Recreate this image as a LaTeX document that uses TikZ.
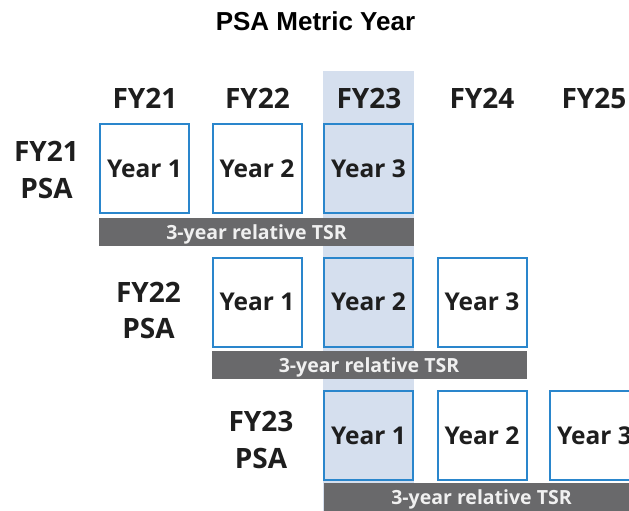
\documentclass[tikz,border=0pt]{standalone}
\usepackage{fontspec}
\setmainfont{Open Sans}
\newfontfamily\titlefont{Liberation Sans}
\definecolor{boxblue}{HTML}{2A86CC}
\definecolor{hl}{HTML}{D5DFEE}
\definecolor{barcol}{HTML}{69696B}
\definecolor{ink}{HTML}{1E1E1E}
\tikzset{
  yearbox/.style={draw=boxblue, line width=2pt, fill=white, minimum width=89pt, minimum height=89pt,
    inner sep=0pt, text=ink, font=\bfseries\fontsize{24.5}{24.5}\selectfont, text height=17.5pt, text depth=0pt},
  hlbox/.style={yearbox, fill=hl},
  tsrbar/.style={fill=barcol, minimum width=315pt, minimum height=28pt, inner sep=0pt,
    text=white!94!black, font=\bfseries\fontsize{19.5}{19.5}\selectfont, text height=14pt, text depth=0pt},
  hdr/.style={anchor=base, text=ink, font=\bfseries\fontsize{28}{28}\selectfont, inner sep=0pt},
}
\begin{document}
\begin{tikzpicture}[x=1pt,y=-1pt]
\useasboundingbox (0,0) rectangle (629,511);
\clip (0,0) rectangle (629,511);
\fill[white] (0,0) rectangle (629,511);
% highlighted column
\fill[hl] (323,71) rectangle (414,511);
% title
\node[anchor=base, inner sep=0pt, font=\titlefont\bfseries\fontsize{26}{26}\selectfont] (title) at (315.5,31) {PSA Metric Year};
% column headers
\node[hdr] (h1) at (145,108) {FY21};
\node[hdr] (h2) at (257.5,108) {FY22};
\node[hdr] (h3) at (369,108) {FY23};
\node[hdr] (h4) at (482,108) {FY24};
\node[hdr] (h5) at (594,108) {FY25};
% row labels
\node[hdr] (r1a) at (46.5,161.5) {FY21};
\node[hdr] (r1b) at (46.5,198) {PSA};
\node[hdr] (r2a) at (148.5,302.5) {FY22};
\node[hdr] (r2b) at (148.5,338.5) {PSA};
\node[hdr] (r3a) at (261,431) {FY23};
\node[hdr] (r3b) at (261,468.5) {PSA};
% row 1
\node[yearbox] (a1) at (144.5,168.5) {Year 1};
\node[yearbox] (a2) at (257,168.5) {Year 2};
\node[hlbox]   (a3) at (368.5,168.5) {Year 3};
\node[tsrbar]  (ta) at (256.5,232) {3-year relative TSR};
% row 2
\node[yearbox] (b1) at (257,302) {Year 1};
\node[hlbox]   (b2) at (368.5,302) {Year 2};
\node[yearbox] (b3) at (482,302) {Year 3};
\node[tsrbar]  (tb) at (369,365) {3-year relative TSR};
% row 3
\node[hlbox]   (c1) at (368.5,435.5) {Year 1};
\node[yearbox] (c2) at (482,435.5) {Year 2};
\node[yearbox] (c3) at (594.5,435.5) {Year 3};
\node[tsrbar]  (tc) at (481.5,497) {3-year relative TSR};
\end{tikzpicture}
\end{document}
